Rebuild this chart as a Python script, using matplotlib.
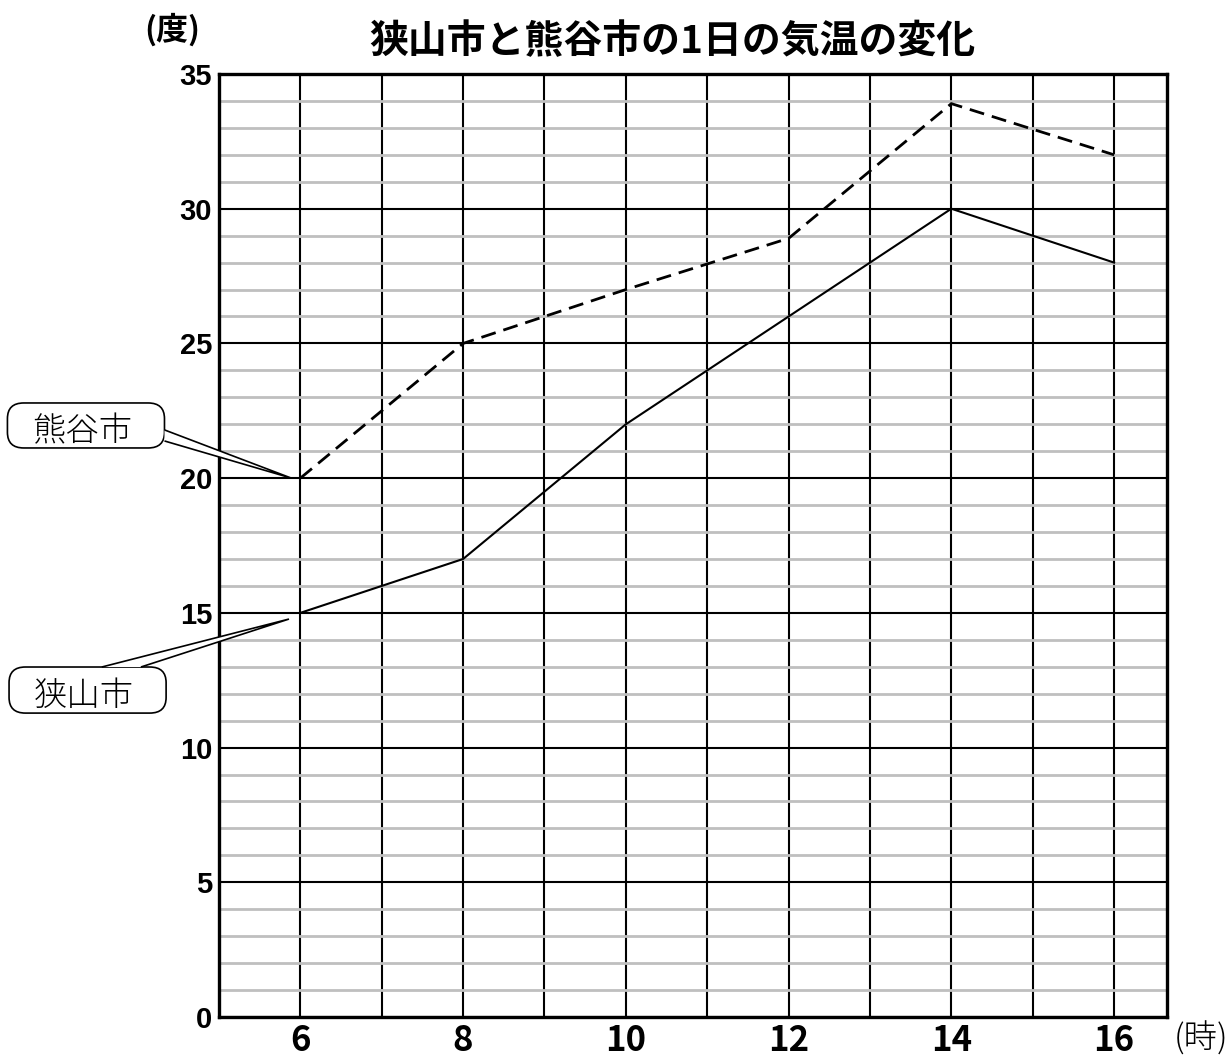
import matplotlib
matplotlib.use("Agg")
import matplotlib.pyplot as plt
from matplotlib import font_manager
from matplotlib.patches import FancyBboxPatch, Polygon

# data
hours = [6, 8, 10, 12, 14, 16]
sayama = [15, 17, 22, 26, 30, 28]          # 狭山市 (solid)
kumagaya = [20, 25, 27, 28.9, 33.9, 32]    # 熊谷市 (dashed)
label_hours = [6, 8, 10, 12, 14, 16]
y_major = [0, 5, 10, 15, 20, 25, 30, 35]

names = {f.name for f in font_manager.fontManager.ttflist}
narrow = 'Liberation Sans Narrow' if 'Liberation Sans Narrow' in names else 'Liberation Sans'
jp = ['Noto Sans CJK JP', 'DejaVu Sans']

plt.rcParams['font.family'] = jp

W, H = 1231, 1057
fig = plt.figure(figsize=(W / 100, H / 100), dpi=100)
ax = fig.add_axes([219 / W, 1 - 1017 / H, (1167 - 219) / W, (1017 - 74) / H])

ax.set_xlim(5, 16.65)
ax.set_ylim(0, 35)

# grid
ax.set_xticks(label_hours)
ax.set_xticks([7, 9, 11, 13, 15], minor=True)
ax.set_yticks(y_major)
ax.set_yticks([v for v in range(36) if v % 5], minor=True)
ax.grid(which='major', axis='both', color='black', lw=1.5, zorder=1)
ax.grid(which='minor', axis='x', color='black', lw=1.5, zorder=1)
ax.grid(which='minor', axis='y', color='#bfbfbf', lw=2.0, zorder=0)
ax.set_axisbelow(True)
ax.tick_params(which='both', length=0)
ax.tick_params(axis='y', pad=5)
ax.tick_params(axis='x', pad=4)

for s in ax.spines.values():
    s.set_linewidth(2.4)
    s.set_zorder(5)

ax.set_yticklabels([str(v) for v in y_major], fontfamily=narrow,
                   fontweight='bold', fontsize=21)
ax.set_xticklabels([str(v) for v in label_hours], fontfamily=jp,
                   fontweight='bold', fontsize=25)

# lines
ax.plot(hours, sayama, color='black', lw=1.5, zorder=4)
ax.plot(hours, kumagaya, color='black', lw=2.0, ls=(0, (5.4, 2.9)), zorder=4)

# titles / units
fig.text(672 / W, 1 - 42 / H, '狭山市と熊谷市の1日の気温の変化',
         ha='center', va='center', fontsize=28, fontweight='bold')
fig.text(172 / W, 1 - 30 / H, '(度)', ha='center', va='center',
         fontsize=23, fontweight='bold')
fig.text(1201 / W, 1 - 1039 / H, '(時)', ha='center', va='center',
         fontsize=24, fontweight='light')


def callout(x0, x1, y0, y1, base, tip, text):
    box = FancyBboxPatch((x0, y0), x1 - x0, y1 - y0,
                         boxstyle='round,pad=0,rounding_size=0.2',
                         mutation_aspect=2.9,
                         fc='white', ec='black', lw=1.2,
                         clip_on=False, zorder=6)
    ax.add_patch(box)
    tail = Polygon([base[0], tip, base[1]], closed=False, fc='white',
                   ec='black', lw=1.2, clip_on=False, zorder=7)
    ax.add_patch(tail)
    ax.text((x0 + x1) / 2 - 0.04, (y0 + y1) / 2 - 0.25, text, ha='center',
            va='center', fontsize=24, fontweight='light', zorder=8,
            clip_on=False)


callout(2.40, 4.33, 21.12, 22.79,
        [(4.33, 21.79), (4.33, 21.38)], (5.89, 20.0), '熊谷市')
callout(2.42, 4.35, 11.28, 12.99,
        [(3.56, 12.99), (4.04, 12.99)], (5.86, 14.77), '狭山市')

fig.savefig('out.png', dpi=100)
